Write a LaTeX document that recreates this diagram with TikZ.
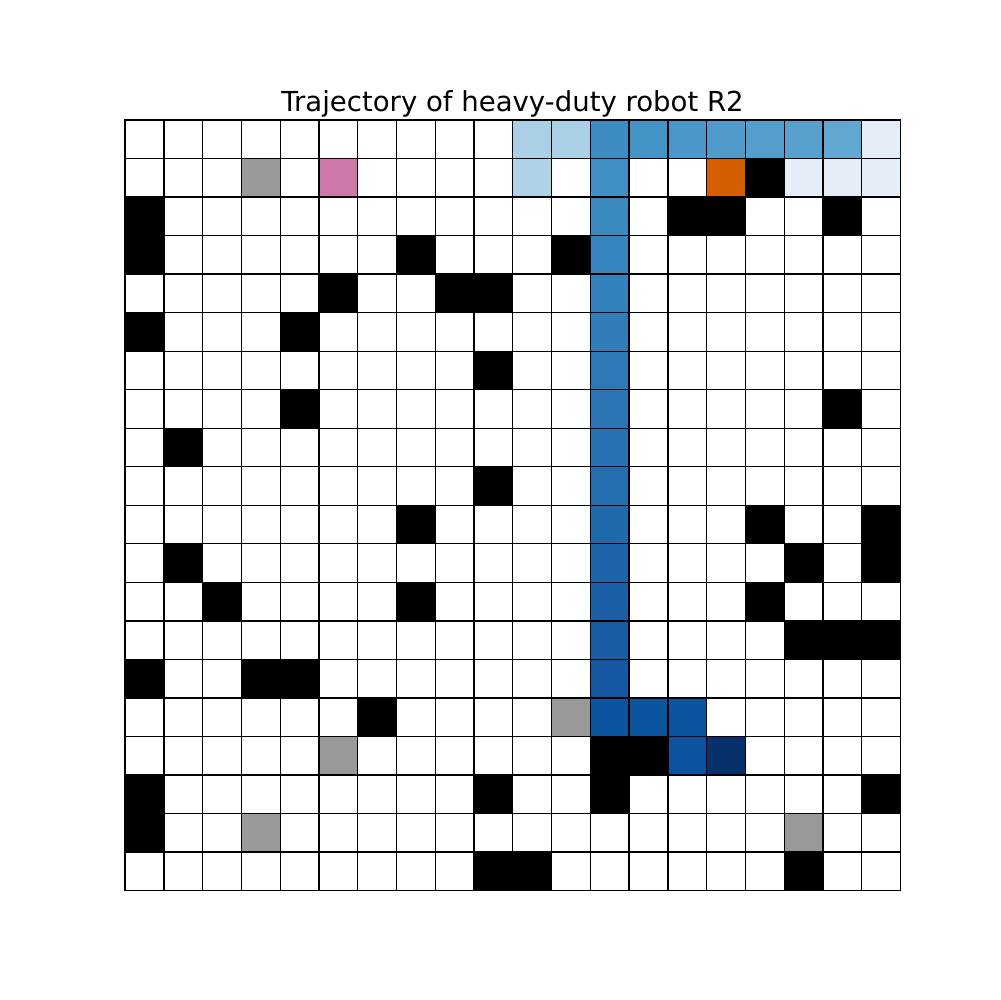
\documentclass[tikz,border=0pt]{standalone}
\usepackage{fontspec}
\newfontfamily\dejavu{DejaVu Sans}
\definecolor{lbA}{HTML}{ABD0E6}
\definecolor{lbB}{HTML}{B0D2E7}
\definecolor{vl}{HTML}{E3EEF8}
\definecolor{rA}{HTML}{3D8DC4}
\definecolor{rB}{HTML}{4493C7}
\definecolor{rC}{HTML}{4A98C9}
\definecolor{rD}{HTML}{509BCB}
\definecolor{rE}{HTML}{539ECD}
\definecolor{rF}{HTML}{58A1CF}
\definecolor{rG}{HTML}{60A7D2}
\definecolor{rH}{HTML}{3F8FC5}
\definecolor{gA}{HTML}{3A8AC2}
\definecolor{gB}{HTML}{1558A2}
\definecolor{dkA}{HTML}{0B559F}
\definecolor{dkB}{HTML}{0A539E}
\definecolor{navy}{HTML}{08306B}
\definecolor{grayc}{HTML}{999999}
\definecolor{pinkc}{HTML}{CC79A7}
\definecolor{orangec}{HTML}{D55E00}
\tikzset{gridline/.style={line width=0.95pt, draw=black, line cap=rect}}
\begin{document}
\begin{tikzpicture}[x=0.01in,y=-0.01in]
\useasboundingbox (0,0) rectangle (1000,1000);
\fill[white] (0,0) rectangle (1000,1000);
\node[font=\dejavu\fontsize{19.9}{24}\selectfont, anchor=base, inner sep=0pt] (title) at (512.5,112) {Trajectory of heavy-duty robot R2};
\begin{scope}[xshift=1.25in, yshift=-1.2in, x=0.3875in, y=-0.385in]
  \foreach \c/\r/\col in {10/0/lbA,11/0/lbA,12/0/rA,13/0/rB,14/0/rC,15/0/rD,16/0/rE,17/0/rF,18/0/rG,19/0/vl,
    10/1/lbB,12/1/rH,17/1/vl,18/1/vl,19/1/vl,
    12/15/dkA,13/15/dkA,14/15/dkA,14/16/dkB,15/16/navy,
    3/1/grayc,11/15/grayc,5/16/grayc,3/18/grayc,17/18/grayc,
    5/1/pinkc,15/1/orangec}
    \fill[\col] (\c,\r) rectangle ++(1,1);
  \foreach \r in {2,...,14} {
    \pgfmathtruncatemacro\p{100-(\r-2)*100/12}
    \fill[gA!\p!gB] (12,\r) rectangle ++(1,1);
  }
  \foreach \c/\r in {0/2,0/3,7/3,11/3,14/2,15/2,18/2,16/1,
    5/4,8/4,9/4,0/5,4/5,9/6,4/7,18/7,1/8,9/9,7/10,16/10,19/10,
    1/11,17/11,19/11,2/12,7/12,16/12,17/13,18/13,19/13,0/14,3/14,4/14,
    6/15,12/16,13/16,0/17,9/17,12/17,19/17,0/18,9/19,10/19,17/19}
    \fill[black] (\c,\r) rectangle ++(1,1);
  \foreach \i in {0,...,20} {
    \draw[gridline] (\i,0) -- (\i,20);
    \draw[gridline] (0,\i) -- (20,\i);
  }
\end{scope}
\end{tikzpicture}
\end{document}
